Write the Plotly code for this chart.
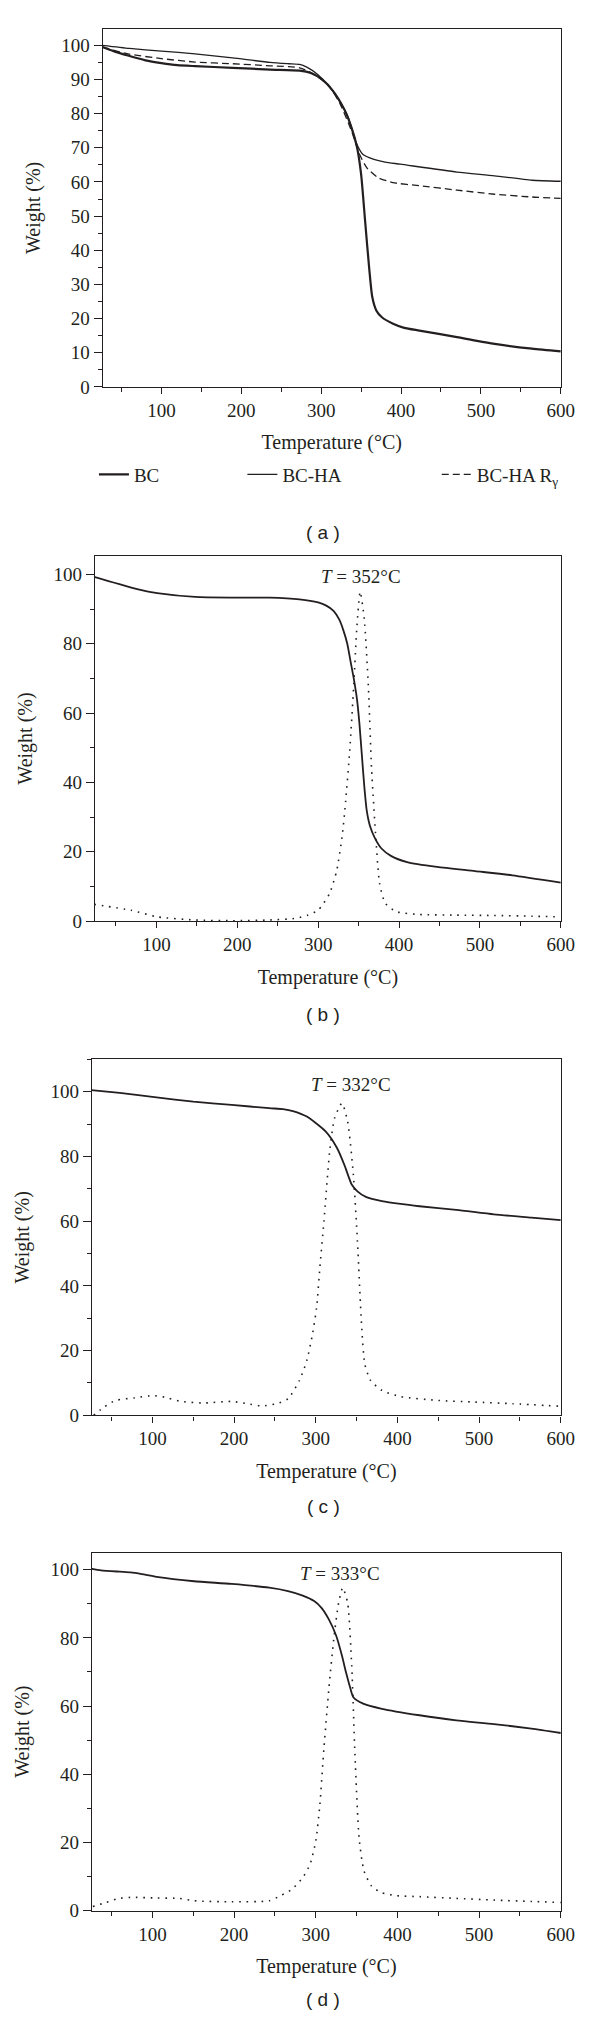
import plotly.graph_objects as go

# ---- panel (a): TG curves of the three samples ----
a_bc_t = [26, 40, 58, 80, 100, 120, 142, 189, 236, 273, 287, 301, 315, 329, 338, 345, 350, 355, 360, 364, 369, 376, 390, 404, 423, 470, 517, 564, 600]
a_bc_w = [99.5, 98.3, 97.0, 95.6, 94.8, 94.2, 93.9, 93.4, 92.9, 92.6, 91.9, 90.0, 86.6, 81.2, 75.9, 70.0, 62.2, 48.6, 35.0, 26.3, 22.4, 20.4, 18.5, 17.3, 16.5, 14.6, 12.6, 11.2, 10.4]

a_ha_t = [26, 60, 100, 142, 189, 236, 259, 273, 282, 296, 310, 324, 334, 343, 352, 366, 380, 399, 470, 517, 564, 600]
a_ha_w = [100.0, 99.1, 98.3, 97.5, 96.3, 95.0, 94.6, 94.4, 93.6, 91.4, 88.0, 83.2, 78.8, 72.0, 68.1, 66.6, 65.8, 65.2, 62.9, 61.8, 60.5, 60.2]

a_ry_t = [26, 58, 100, 142, 189, 236, 273, 292, 310, 324, 338, 348, 357, 371, 390, 423, 470, 517, 564, 600]
a_ry_w = [99.5, 97.5, 96.1, 95.1, 94.6, 94.0, 93.4, 91.4, 88.0, 82.7, 74.9, 68.1, 64.2, 61.3, 59.8, 58.9, 57.6, 56.4, 55.6, 55.2]

# ---- panel (b): BC, TG + DTG ----
b_tg_t = [23, 69, 83, 101, 148, 194, 240, 277, 300, 310, 319, 326, 331, 336, 340, 344, 348, 351, 354, 357, 360, 364, 370, 378, 390, 410, 447, 494, 540, 600]
b_tg_w = [99.3, 96.2, 95.4, 94.6, 93.5, 93.3, 93.3, 92.8, 91.9, 91.0, 89.5, 87.0, 84.0, 80.0, 75.0, 70.0, 64.0, 57.0, 48.0, 39.0, 32.0, 27.5, 24.0, 21.0, 18.8, 17.0, 15.6, 14.4, 13.2, 11.1]

b_dtg_t = [23, 69, 101, 148, 194, 240, 273, 287, 300, 314, 323, 330, 334, 339, 344, 348, 352, 357, 362, 366, 371, 376, 383, 397, 425, 471, 517, 564, 600]
b_dtg_w = [4.8, 3.1, 1.2, 0.3, 0.1, 0.3, 0.8, 1.7, 3.1, 7.9, 14.6, 25.1, 34.6, 49.0, 68.0, 85.2, 95.0, 87.2, 68.0, 44.2, 25.1, 10.8, 5.1, 2.7, 1.9, 1.7, 1.6, 1.4, 1.2]

# ---- panel (c): BC-HA, TG + DTG ----
c_tg_t = [25, 60, 105, 150, 197, 243, 260, 272, 289, 312, 326, 335, 344, 351, 362, 381, 404, 427, 472, 518, 564, 600]
c_tg_w = [100.5, 99.6, 98.2, 96.9, 95.9, 94.9, 94.6, 94.0, 92.3, 87.7, 82.6, 77.4, 71.3, 69.2, 67.4, 66.2, 65.3, 64.6, 63.5, 62.1, 61.1, 60.3]

c_dtg_t = [28, 41, 55, 78, 101, 115, 133, 161, 197, 216, 234, 252, 266, 280, 289, 296, 301, 305, 310, 317, 323, 332, 339, 346, 351, 356, 360, 367, 381, 404, 450, 495, 541, 600]
c_dtg_w = [0.0, 2.6, 4.6, 5.4, 6.1, 5.6, 4.4, 3.8, 4.3, 3.6, 2.9, 3.6, 5.1, 10.8, 16.9, 25.1, 33.3, 45.6, 60.0, 81.5, 91.8, 96.4, 90.8, 74.4, 53.8, 28.2, 15.9, 10.8, 7.7, 5.8, 4.6, 4.1, 3.6, 2.8]

# ---- panel (d): BC-HA Rγ, TG + DTG ----
d_tg_t = [25, 37, 60, 73, 87, 105, 151, 197, 243, 266, 284, 298, 307, 316, 325, 332, 337, 342, 346, 358, 381, 427, 472, 518, 564, 600]
d_tg_w = [100.3, 99.8, 99.4, 99.2, 98.7, 97.9, 96.6, 95.8, 94.7, 93.7, 92.4, 90.8, 88.8, 85.4, 80.6, 74.8, 69.9, 65.5, 62.6, 60.7, 59.2, 57.3, 55.8, 54.7, 53.4, 52.1]

d_dtg_t = [27, 42, 57, 73, 105, 133, 151, 197, 243, 257, 271, 284, 293, 300, 305, 310, 316, 322, 328, 333, 339, 344, 348, 353, 359, 368, 380, 399, 427, 472, 518, 564, 600]
d_dtg_w = [1.2, 2.3, 3.5, 3.9, 3.7, 3.6, 2.9, 2.6, 2.9, 4.4, 6.3, 9.7, 13.6, 20.4, 31.1, 47.6, 65.0, 79.6, 90.3, 94.7, 90.3, 71.8, 45.6, 21.4, 11.7, 7.3, 5.3, 4.4, 4.1, 3.6, 3.1, 2.7, 2.4]

peak_labels = ["352", "332", "333"]
peak_pos = [(353, 99.5), (343, 102.3), (330, 99.0)]

W, H = 600, 2033
INK = "#231f20"
SERIF = "Liberation Serif, DejaVu Serif, serif"
SANS = "Liberation Sans, DejaVu Sans, sans-serif"

# plot frames in pixels: (left, right, top, bottom)
frames = [(97, 566, 21, 381), (89, 566, 551, 918), (86, 566, 1057, 1415), (86, 566, 1553, 1913)]
y_ranges = [[0, 104.8], [0, 105.3], [0, 110], [0, 105]]
x_ranges = [[26.5, 600], [24, 600], [26, 600], [26, 600]]


def px_x(v):
    return v / W


def px_y(v):
    return 1 - v / H


fig = go.Figure()

line_solid = dict(color=INK, width=1.8, shape="spline", smoothing=0.6)
dot_line = dict(color=INK, width=1.6, dash="1.6px,5.8px", shape="spline", smoothing=0.6)

fig.add_trace(go.Scatter(x=a_bc_t, y=a_bc_w, mode="lines", name="BC",
                         line=dict(color=INK, width=2.2, shape="spline", smoothing=0.6),
                         legend="legend"))
fig.add_trace(go.Scatter(x=a_ha_t, y=a_ha_w, mode="lines", name="BC-HA",
                         line=dict(color=INK, width=1.3, shape="spline", smoothing=0.6),
                         legend="legend2"))
fig.add_trace(go.Scatter(x=a_ry_t, y=a_ry_w, mode="lines", name="BC-HA R<sub>γ</sub>",
                         line=dict(color=INK, width=1.3, dash="7px,4px", shape="spline", smoothing=0.6),
                         legend="legend3"))

panels = [(b_tg_t, b_tg_w, b_dtg_t, b_dtg_w), (c_tg_t, c_tg_w, c_dtg_t, c_dtg_w), (d_tg_t, d_tg_w, d_dtg_t, d_dtg_w)]
for i, (tt, tw, dt, dw) in enumerate(panels, start=2):
    fig.add_trace(go.Scatter(x=tt, y=tw, mode="lines", line=line_solid, showlegend=False,
                             xaxis=f"x{i}", yaxis=f"y{i}"))
    fig.add_trace(go.Scatter(x=dt, y=dw, mode="lines", line=dot_line, showlegend=False,
                             xaxis=f"x{i}", yaxis=f"y{i}"))

layout = dict(
    width=W, height=H, margin=dict(l=0, r=0, t=0, b=0),
    paper_bgcolor="white", plot_bgcolor="white",
    font=dict(family=SERIF, size=19, color=INK),
)

for i, (l, r, t, b) in enumerate(frames, start=1):
    sfx = "" if i == 1 else str(i)
    ydt, ymin = (10, 5) if i == 1 else (20, 10)
    layout["xaxis" + sfx] = dict(
        domain=[px_x(l), px_x(r)], anchor="y" + sfx, range=x_ranges[i - 1],
        tick0=0, dtick=100, ticks="outside", ticklen=6, tickwidth=1.2, tickcolor=INK,
        minor=dict(dtick=50, tick0=0, ticks="outside", ticklen=4, tickwidth=1.2, tickcolor=INK),
        showline=True, linecolor=INK, linewidth=1.4, mirror=True, showgrid=False, zeroline=False,
        tickfont=dict(family=SERIF, size=19, color=INK),
        title=dict(text="Temperature (°C)", font=dict(family=SERIF, size=20, color=INK)),
    )
    layout["yaxis" + sfx] = dict(
        domain=[px_y(b), px_y(t)], anchor="x" + sfx, range=y_ranges[i - 1],
        tick0=0, dtick=ydt, ticks="outside", ticklen=8, tickwidth=1.2, tickcolor=INK,
        minor=dict(dtick=ymin, tick0=0, ticks="outside", ticklen=4, tickwidth=1.2, tickcolor=INK),
        showline=True, linecolor=INK, linewidth=1.4, mirror=True, showgrid=False, zeroline=False,
        tickfont=dict(family=SERIF, size=19, color=INK),
        title=dict(text="Weight (%)", font=dict(family=SERIF, size=20, color=INK)),
    )

leg_y = px_y(469)
leg_common = dict(orientation="h", yanchor="middle", y=leg_y, xanchor="left",
                  bgcolor="rgba(0,0,0,0)", font=dict(family=SERIF, size=19, color=INK),
                  itemwidth=30)
layout["legend"] = dict(x=px_x(88), **leg_common)
layout["legend2"] = dict(x=px_x(240), **leg_common)
layout["legend3"] = dict(x=px_x(439), **leg_common)

annotations = []
for i, (lab, (px_, py_)) in enumerate(zip(peak_labels, peak_pos), start=2):
    annotations.append(dict(
        x=px_, y=py_, xref=f"x{i}", yref=f"y{i}", showarrow=False,
        text=f"<i>T</i> = {lab}°C", font=dict(family=SERIF, size=19, color=INK),
    ))

for lab, ypix in zip(["a", "b", "c", "d"], [515, 1012, 1519, 2015]):
    annotations.append(dict(
        x=px_x(323), y=px_y(ypix), xref="paper", yref="paper", showarrow=False,
        text=f"( {lab} )", font=dict(family=SANS, size=19, color=INK),
    ))

layout["annotations"] = annotations
fig.update_layout(**layout)

fig.write_html("out.html")
